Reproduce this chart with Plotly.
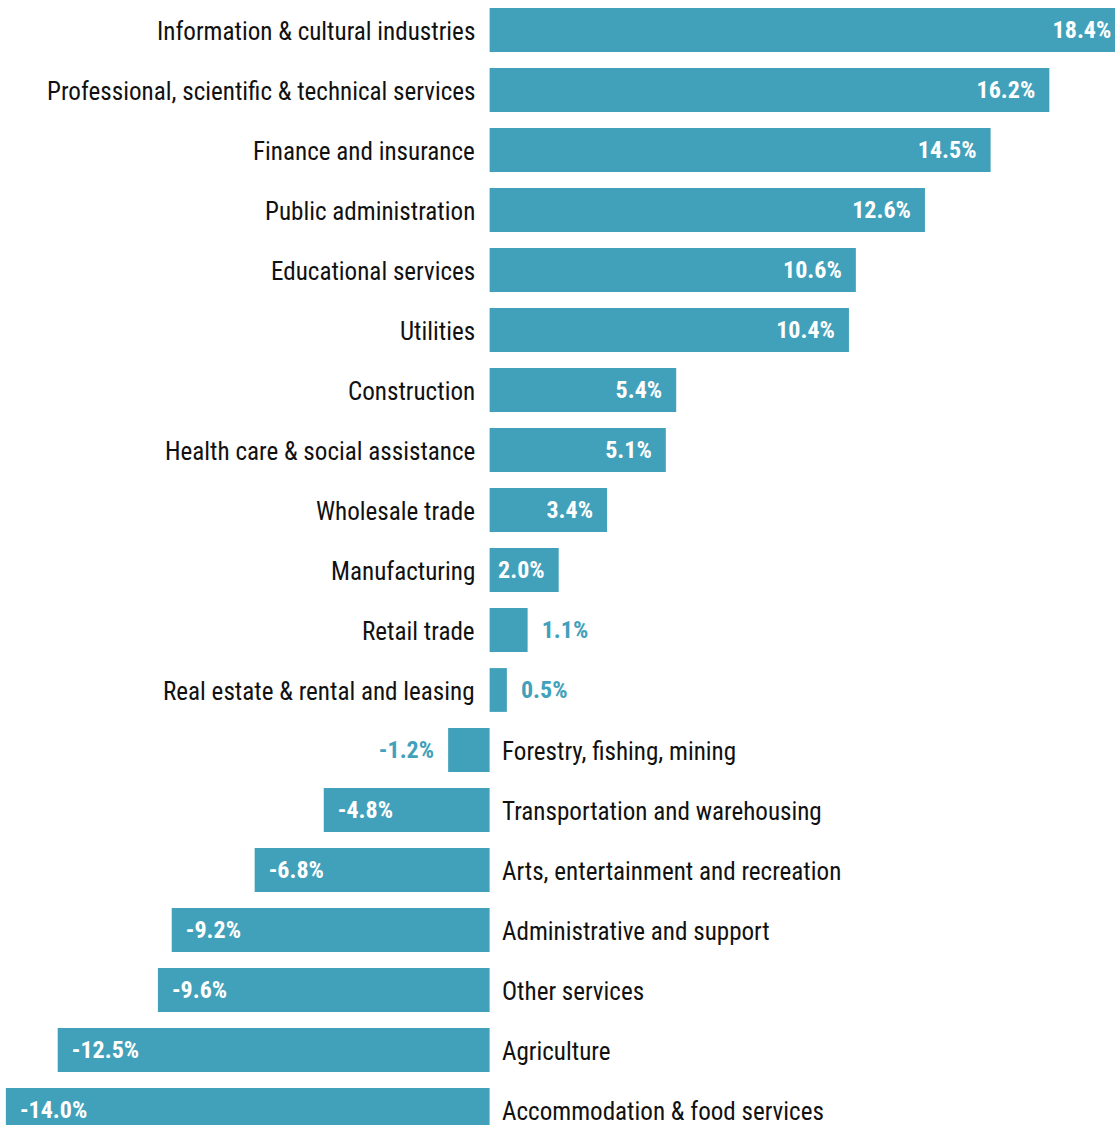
import plotly.graph_objects as go

# Change by industry, percent
industries = [
    "Information & cultural industries",
    "Professional, scientific & technical services",
    "Finance and insurance",
    "Public administration",
    "Educational services",
    "Utilities",
    "Construction",
    "Health care & social assistance",
    "Wholesale trade",
    "Manufacturing",
    "Retail trade",
    "Real estate & rental and leasing",
    "Forestry, fishing, mining",
    "Transportation and warehousing",
    "Arts, entertainment and recreation",
    "Administrative and support",
    "Other services",
    "Agriculture",
    "Accommodation & food services",
]
changes = [18.4, 16.2, 14.5, 12.6, 10.6, 10.4, 5.4, 5.1, 3.4, 2.0, 1.1, 0.5,
           -1.2, -4.8, -6.8, -9.2, -9.6, -12.5, -14.0]

BAR = "#42a1ba"
INK = "#111111"
FONT = "Roboto Condensed"
SMALL = 1.5  # bars shorter than this carry their label outside
PAD = "\u00a0\u00a0"  # breathing room between a label and the bar tip

# value labels: inside the bar tip for long bars, just beyond it for short ones
labels, positions = [], []
for v in changes:
    txt = f"{v:.1f}%"
    if abs(v) >= SMALL:
        positions.append("inside")
        labels.append(txt + PAD if v >= 0 else PAD + txt)
    else:
        positions.append("outside")
        labels.append(PAD + txt if v >= 0 else txt + PAD)

fig = go.Figure()

fig.add_trace(go.Bar(
    x=changes, y=industries, orientation="h",
    marker=dict(color=BAR, line=dict(width=0)),
    text=labels, textposition=positions,
    insidetextanchor="end", textangle=0, constraintext="none",
    insidetextfont=dict(family=FONT, size=24, color="white", weight=700),
    outsidetextfont=dict(family=FONT, size=24, color=BAR, weight=700),
    cliponaxis=True,
    hoverinfo="skip",
))

# industry names sit on the opposite side of the zero line from their bar
for name, v in zip(industries, changes):
    fig.add_annotation(
        x=0, y=name, xref="x", yref="y",
        text=name, showarrow=False,
        xanchor="right" if v >= 0 else "left",
        xshift=-13 if v >= 0 else 10,
        yshift=-1,
        font=dict(family=FONT, size=25.1, color=INK),
    )

fig.update_xaxes(range=[-14.17, 18.1], visible=False, fixedrange=True)
fig.update_yaxes(type="category", range=[18.25, -0.5], visible=False, fixedrange=True)

fig.update_layout(
    width=1115, height=1125,
    margin=dict(l=0, r=0, t=0, b=0),
    paper_bgcolor="white", plot_bgcolor="white",
    bargap=0.27, showlegend=False,
)

fig.write_html("out.html")
